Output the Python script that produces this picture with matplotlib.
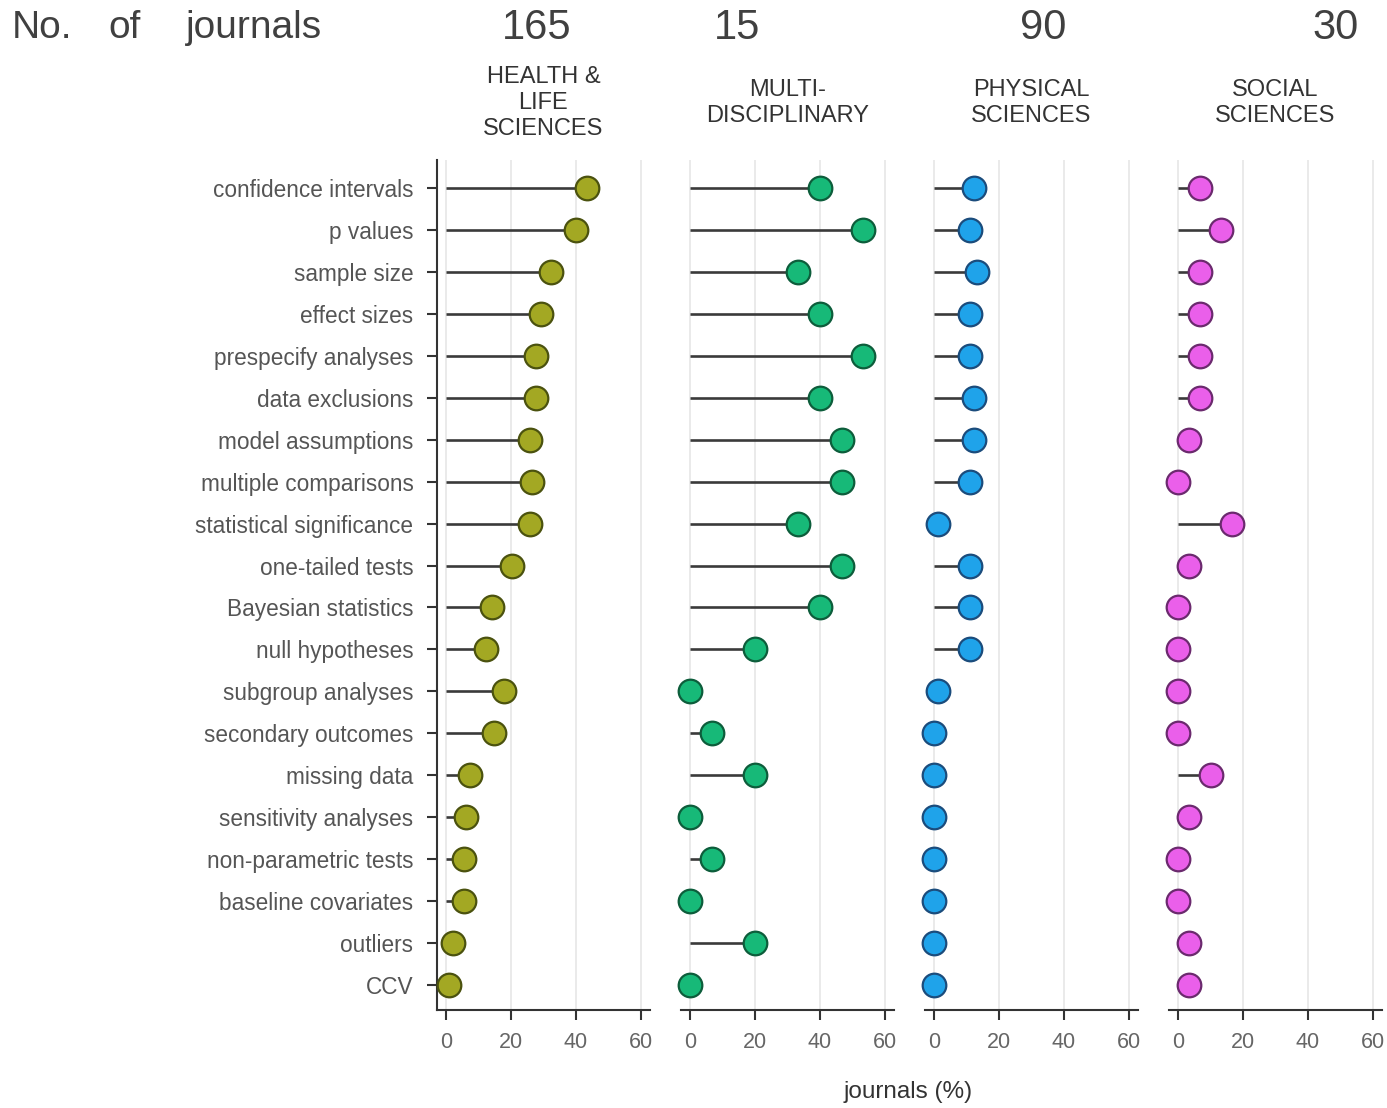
import numpy as np
import matplotlib.pyplot as plt

plt.rcParams['font.family'] = ['Liberation Sans', 'DejaVu Sans']

# Practices, top to bottom
practices = ['confidence intervals', 'p values', 'sample size', 'effect sizes',
             'prespecify analyses', 'data exclusions', 'model assumptions',
             'multiple comparisons', 'statistical significance', 'one-tailed tests',
             'Bayesian statistics', 'null hypotheses', 'subgroup analyses',
             'secondary outcomes', 'missing data', 'sensitivity analyses',
             'non-parametric tests', 'baseline covariates', 'outliers', 'CCV']

fields = ['HEALTH &\nLIFE\nSCIENCES', 'MULTI-\nDISCIPLINARY',
          'PHYSICAL\nSCIENCES', 'SOCIAL\nSCIENCES']
n_journals = ['165', '15', '90', '30']

# journals (%) per practice
health = [43.4, 40.0, 32.3, 29.2, 27.7, 27.7, 25.8, 26.5, 25.8, 20.3,
          14.2, 12.3, 17.8, 14.8, 7.4, 6.2, 5.5, 5.5, 2.2, 0.9]
multi = [40.0, 53.3, 33.3, 40.0, 53.3, 40.0, 46.7, 46.7, 33.3, 46.7,
         40.0, 20.0, 0.0, 6.7, 20.0, 0.0, 6.7, 0.0, 20.0, 0.0]
physical = [12.2, 11.1, 13.3, 11.1, 11.1, 12.2, 12.2, 11.1, 1.1, 11.1,
            11.1, 11.1, 1.1, 0.0, 0.0, 0.0, 0.0, 0.0, 0.0, 0.0]
social = [6.7, 13.3, 6.7, 6.7, 6.7, 6.7, 3.3, 0.0, 16.7, 3.3,
          0.0, 0.0, 0.0, 0.0, 10.0, 3.3, 0.0, 0.0, 3.3, 3.3]

series = [health, multi, physical, social]
fills = ['#a3a823', '#17b978', '#1fa3ea', '#ea5fea']
edges = ['#4b520f', '#0d5d3b', '#1b4c7c', '#6b2a6e']

W, H = 1387, 1108
fig = plt.figure(figsize=(W / 100, H / 100), dpi=100)

y = np.arange(len(practices))
lefts = [437, 681, 925, 1169]
ax_w = 213
ax_top, ax_bot = 160, 1010

for i, (vals, fc, ec) in enumerate(zip(series, fills, edges)):
    ax = fig.add_axes([lefts[i] / W, 1 - ax_bot / H, ax_w / W, (ax_bot - ax_top) / H])
    ax.hlines(y, 0, vals, color='#3a3a3a', lw=1.9, zorder=2)
    ax.plot(vals, y, 'o', ms=17, mfc=fc, mec=ec, mew=1.6, zorder=3, clip_on=False)
    ax.set_xlim(-2.8, 62.8)
    ax.set_ylim(19.6, -0.67)
    ax.set_xticks([0, 20, 40, 60])
    ax.grid(axis='x', color='#e8e8e8', lw=1.3, zorder=0)
    ax.set_axisbelow(True)
    for s in ['top', 'right']:
        ax.spines[s].set_visible(False)
    ax.spines['bottom'].set_color('#333333')
    ax.spines['bottom'].set_linewidth(1.5)
    ax.tick_params(axis='x', length=7, width=1.5, color='#333333',
                   labelsize=15.5, labelcolor='#666666', pad=9)
    if i == 0:
        ax.set_yticks(y)
        ax.set_yticklabels(practices)
        ax.spines['left'].set_color('#333333')
        ax.spines['left'].set_linewidth(1.5)
        ax.tick_params(axis='y', length=7, width=1.5, color='#333333',
                       labelsize=16.3, labelcolor='#555555', pad=10)
    else:
        ax.spines['left'].set_visible(False)
        ax.set_yticks([])
    cx = (lefts[i] + 9 + 3.25 * 30) / W
    fig.text(cx, 1 - 103 / H, fields[i], ha='center', va='center',
             fontsize=17, color='#333333', linespacing=1.25)

# header row with journal counts
for word, xpos in zip(['No.', 'of', 'journals'], [12, 108, 186]):
    fig.text(xpos / W, 1 - 28 / H, word, ha='left', va='center',
             fontsize=28, color='#404040')
for xpos, n in zip([537, 737, 1043, 1336], n_journals):
    fig.text(xpos / W, 1 - 28 / H, n, ha='center', va='center',
             fontsize=30, color='#404040')

fig.text(908 / W, 1 - 1092 / H, 'journals (%)', ha='center', va='center',
         fontsize=17.5, color='#333333')

fig.savefig('out.png', dpi=100)
